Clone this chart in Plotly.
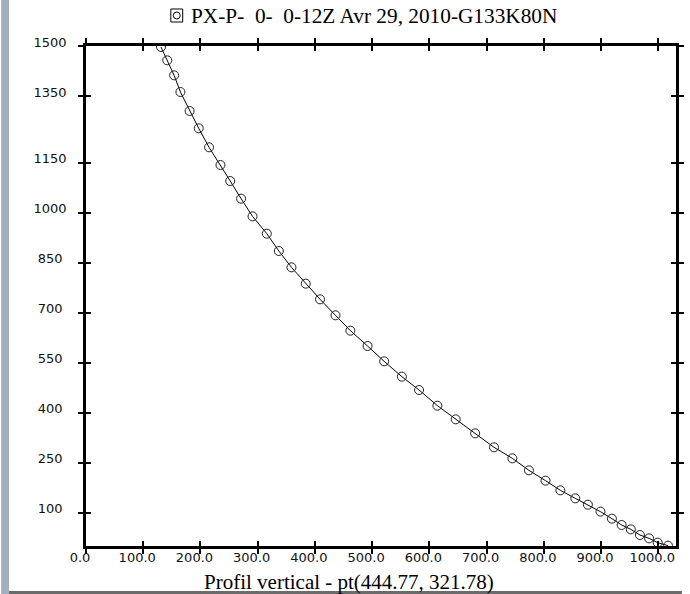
import plotly.graph_objects as go

# Data
x_vals = [131, 142, 154, 165, 181, 197, 215, 235, 252, 271, 291, 316, 337, 359, 384,
          409, 436, 462, 492, 521, 552, 582, 614, 646, 680, 713, 745, 774, 803, 829,
          855, 877, 899, 919, 936, 952, 968, 984, 999, 1017]
y_vals = [1497, 1457, 1412, 1362, 1305, 1253, 1196, 1143, 1095, 1042, 989, 937, 885, 836, 787,
          740, 692, 646, 600, 554, 508, 468, 421, 380, 338, 296, 263, 227, 196, 167,
          143, 124, 103, 82, 63, 50, 33, 23, 10, 1]

x_ticks = [0, 100, 200, 300, 400, 500, 600, 700, 800, 900, 1000]
x_ticktext = ["0.0", "100.0", "200.0", "300.0", "400.0", "500.0", "600.0", "700.0",
              "800.0", "900.0", "1000.0"]
y_ticks = [100, 250, 400, 550, 700, 850, 1000, 1150, 1350, 1500]
y_ticktext = ["100", "250", "400", "550", "700", "850", "1000", "1150", "1350", "1500"]

title_text = "PX-P-\u00a0\u00a00-\u00a0\u00a00-12Z Avr 29, 2010-G133K80N"
xlabel_text = "Profil vertical - pt(444.77, 321.78)"

W, H = 690, 594
L, R, T, B = 86, 6, 46, 48
PW, PH = W - L - R, H - T - B


def px_x(p):
    return (p - L) / PW


def px_y(p):
    return (H - B - p) / PH


y_ticktext_padded = [t if len(t) == 4 else t + "\u2008" for t in y_ticktext]

fig = go.Figure()
fig.add_trace(go.Scatter(
    x=x_vals, y=y_vals, mode="lines+markers",
    line=dict(color="black", width=1),
    marker=dict(symbol="circle-open", size=9, color="#222", line=dict(width=1)),
    showlegend=False, hoverinfo="skip",
))
# empty trace to anchor the companion (inside-tick) axes
fig.add_trace(go.Scatter(x=[None], y=[None], xaxis="x2", yaxis="y2",
                         showlegend=False, hoverinfo="skip"))

tick_font = dict(family="DejaVu Sans", size=13, color="#111")
axis_common = dict(showgrid=False, zeroline=False, showline=True, linecolor="black",
                   linewidth=2.5, ticklen=5, tickwidth=2, tickcolor="black",
                   mirror="allticks")

XR = [0, 1031]
YR = [0, 1500]

fig.update_layout(
    width=W, height=H,
    margin=dict(l=L, r=R, t=T, b=B, pad=0),
    paper_bgcolor="white", plot_bgcolor="white",
    xaxis=dict(range=XR, tickmode="array", tickvals=x_ticks, ticktext=x_ticktext,
               ticks="outside", tickfont=tick_font, ticklabelshift=-6,
               ticklabelstandoff=-7, **axis_common),
    yaxis=dict(range=YR, tickmode="array", tickvals=y_ticks,
               ticktext=y_ticktext_padded, ticks="outside", tickfont=tick_font,
               ticklabelshift=-4, ticklabelstandoff=9, **axis_common),
    xaxis2=dict(overlaying="x", range=XR, tickmode="array", tickvals=x_ticks,
                ticks="inside", showticklabels=False, anchor="y2", **axis_common),
    yaxis2=dict(overlaying="y", range=YR, tickmode="array", tickvals=y_ticks,
                ticks="inside", showticklabels=False, anchor="x2", **axis_common),
    shapes=[
        # left grey window strip
        dict(type="rect", xref="paper", yref="paper", x0=px_x(0), x1=px_x(8),
             y0=px_y(H), y1=px_y(0), fillcolor="#A3ADBB", line=dict(width=0), layer="below"),
        # bottom dark line
        dict(type="rect", xref="paper", yref="paper", x0=px_x(8), x1=px_x(W),
             y0=px_y(594), y1=px_y(591), fillcolor="#6B6B6B", line=dict(width=0), layer="below"),
        # legend box
        dict(type="rect", xref="paper", yref="paper", x0=px_x(172), x1=px_x(184),
             y0=px_y(22), y1=px_y(9), line=dict(color="black", width=1)),
        dict(type="circle", xref="paper", yref="paper", x0=px_x(174.5), x1=px_x(181.5),
             y0=px_y(19), y1=px_y(12), line=dict(color="black", width=1)),
    ],
    annotations=[
        dict(text=title_text, xref="paper", yref="paper", x=px_x(377.5), y=px_y(16),
             xanchor="center", yanchor="middle", showarrow=False,
             font=dict(family="Liberation Serif", size=21.3, color="black")),
        dict(text=xlabel_text, xref="paper", yref="paper", x=px_x(352.5), y=px_y(582),
             xanchor="center", yanchor="middle", showarrow=False,
             font=dict(family="Liberation Serif", size=21, color="black")),
    ],
)

fig.write_html("out.html")
